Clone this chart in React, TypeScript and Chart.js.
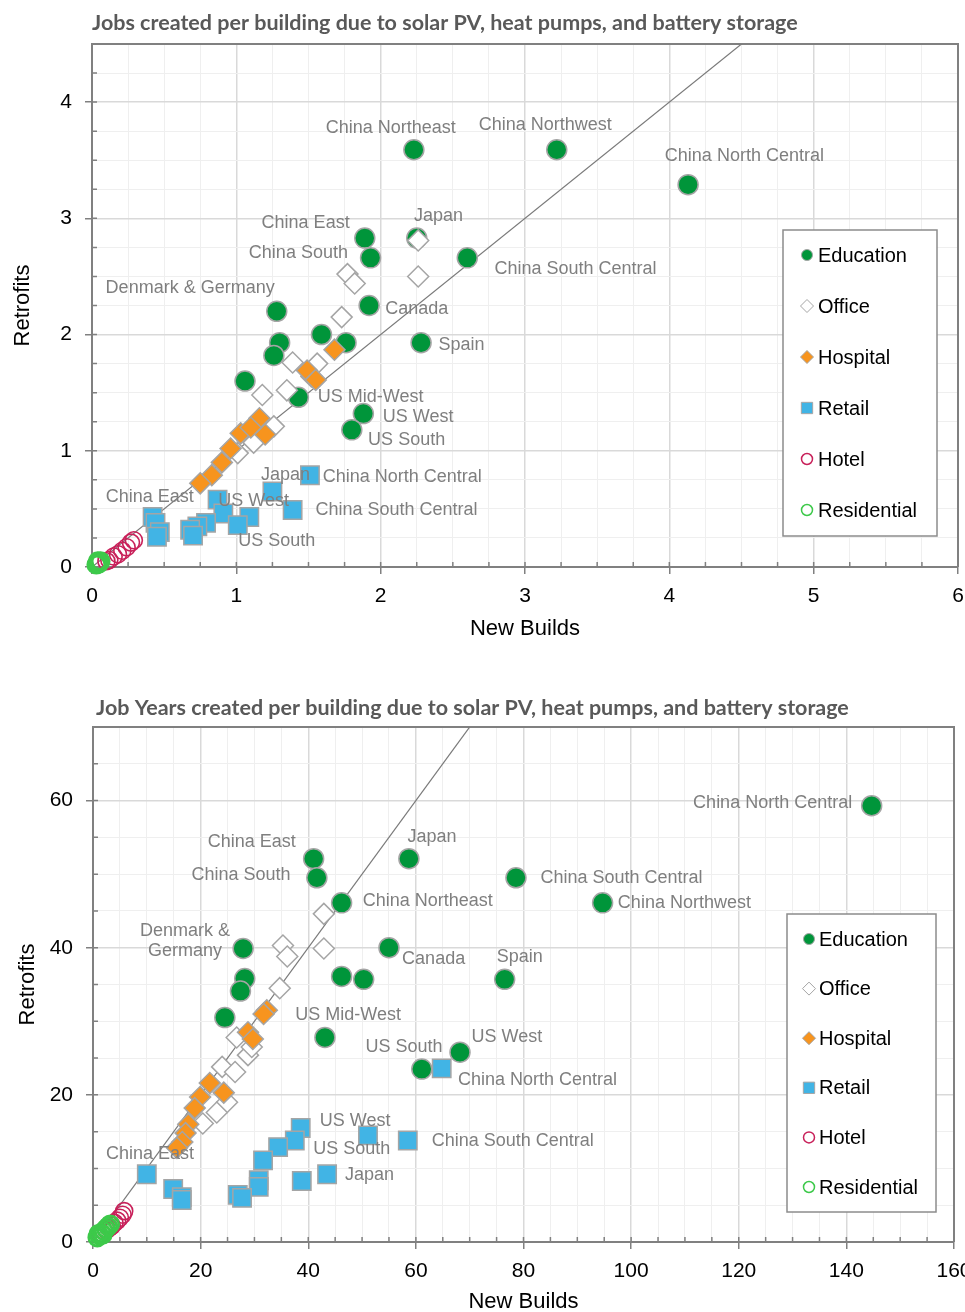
import React, { useEffect, useRef } from 'react';
import { Chart, registerables } from 'chart.js';

Chart.register(...registerables);

type Pt = [number, number];

// ---------------- Chart 1: Jobs created per building ----------------
const jobsTitle = 'Jobs created per building due to solar PV, heat pumps, and battery storage';
const jobsAxisMax = [6, 4.5];
const jobsRefLine = [0, 6];

const jobsEducation: Pt[] = [
  [2.23, 3.59], [3.22, 3.59], [4.13, 3.29], [1.89, 2.83], [2.25, 2.83], [1.93, 2.66], [2.60, 2.66],
  [1.92, 2.25], [1.28, 2.20], [1.59, 2.00], [1.30, 1.93], [1.76, 1.93], [1.26, 1.82], [1.06, 1.60],
  [1.43, 1.46], [2.28, 1.93], [1.88, 1.32], [1.80, 1.18],
];
const jobsOffice: Pt[] = [
  [2.26, 2.81], [2.26, 2.50], [1.77, 2.52], [1.82, 2.44], [1.73, 2.15], [1.39, 1.76], [1.56, 1.75],
  [1.18, 1.48], [1.35, 1.52], [1.26, 1.21], [1.12, 1.07], [1.01, 0.98], [1.52, 1.64],
];
const jobsHospital: Pt[] = [
  [1.68, 1.87], [1.49, 1.69], [1.55, 1.61], [1.16, 1.28], [1.20, 1.14], [1.03, 1.15], [1.10, 1.20],
  [0.96, 1.02], [0.90, 0.90], [0.83, 0.79], [0.75, 0.72],
];
const jobsRetail: Pt[] = [
  [1.51, 0.79], [1.25, 0.65], [1.39, 0.49], [0.87, 0.58], [0.91, 0.46], [1.09, 0.43], [1.01, 0.36],
  [0.79, 0.38], [0.73, 0.35], [0.68, 0.32], [0.70, 0.27], [0.42, 0.43], [0.44, 0.38], [0.47, 0.30],
  [0.45, 0.26],
];
const jobsHotel: Pt[] = [
  [0.29, 0.23], [0.27, 0.21], [0.24, 0.17], [0.21, 0.14], [0.18, 0.11], [0.15, 0.09], [0.12, 0.06], [0.10, 0.05],
];
const jobsResidential: Pt[] = [
  [0.03, 0.02], [0.04, 0.03], [0.05, 0.04], [0.06, 0.05], [0.04, 0.05], [0.05, 0.03],
];
const jobsLabelText = [
  'China Northeast', 'China Northwest', 'China North Central', 'China East', 'Japan', 'China South',
  'China South Central', 'Denmark & Germany', 'Canada', 'Spain', 'US Mid-West', 'US West', 'US South',
  'Japan', 'China North Central', 'China East', 'US West', 'China South Central', 'US South',
];
const jobsLabelX = [2.07, 3.14, 4.52, 1.48, 2.40, 1.43, 3.35, 0.68, 2.25, 2.56, 1.93, 2.26, 2.18, 1.34, 2.15, 0.40, 1.12, 2.11, 1.28];
const jobsLabelY = [3.78, 3.80, 3.54, 2.96, 3.02, 2.70, 2.56, 2.40, 2.22, 1.91, 1.46, 1.29, 1.09, 0.79, 0.77, 0.60, 0.57, 0.49, 0.22];

// ---------------- Chart 2: Job years created per building ----------------
const yearsTitle = 'Job Years created per building due to solar PV, heat pumps, and battery storage';
const yearsAxisMax = [160, 70];
const yearsRefLine = [0, 160];

const yearsEducation: Pt[] = [
  [144.7, 59.3], [41.0, 52.1], [58.7, 52.1], [41.6, 49.5], [78.6, 49.5], [46.2, 46.1], [94.7, 46.1],
  [27.9, 39.9], [55.0, 40.0], [28.2, 35.8], [27.4, 34.1], [46.2, 36.1], [50.3, 35.7], [76.5, 35.7],
  [24.5, 30.5], [43.1, 27.8], [68.2, 25.8], [61.1, 23.5],
];
const yearsOffice: Pt[] = [
  [42.9, 44.6], [42.9, 39.9], [35.3, 40.3], [36.1, 38.8], [34.7, 34.5], [26.7, 27.8], [28.8, 25.4],
  [24.0, 23.8], [26.4, 23.1], [24.9, 19.0], [23.0, 17.6], [20.4, 16.1], [29.5, 26.5],
];
const yearsHospital: Pt[] = [
  [32.3, 31.5], [31.7, 31.0], [28.8, 28.5], [29.7, 27.6], [21.7, 21.6], [19.9, 19.7], [24.3, 20.3],
  [18.9, 18.2], [17.7, 16.0], [17.2, 14.8], [16.6, 13.6], [15.6, 12.8],
];
const yearsRetail: Pt[] = [
  [64.8, 23.6], [38.6, 15.5], [51.1, 14.5], [58.5, 13.8], [37.5, 13.8], [34.4, 12.9], [31.6, 11.1],
  [30.8, 8.4], [30.8, 7.5], [43.5, 9.2], [38.8, 8.3], [26.9, 6.4], [27.7, 6.0], [10.0, 9.2],
  [14.9, 7.2], [16.5, 6.1], [16.5, 5.7],
];
const yearsHotel: Pt[] = [
  [5.8, 4.2], [5.5, 3.7], [5.0, 3.3], [4.5, 2.9], [4.0, 2.6], [3.5, 2.2], [3.0, 1.9], [2.5, 1.6],
];
const yearsResidential: Pt[] = [
  [0.8, 0.6], [1.2, 0.9], [1.6, 1.2], [2.0, 1.5], [2.4, 1.8], [2.8, 2.1], [3.2, 2.4], [1.0, 1.1], [1.8, 1.0],
];
const yearsLabelText = [
  'China North Central', 'China East', 'Japan', 'China South', 'China South Central', 'China Northeast',
  'China Northwest', 'Denmark &', 'Germany', 'Canada', 'Spain', 'US Mid-West', 'US West', 'US South',
  'China North Central', 'US West', 'China South Central', 'US South', 'Japan', 'China East',
];
const yearsLabelX = [126.3, 29.5, 63.0, 27.5, 98.2, 62.2, 109.9, 17.1, 17.1, 63.3, 79.3, 47.4, 76.9, 57.8, 82.6, 48.7, 78.0, 48.1, 51.4, 10.6];
const yearsLabelY = [59.6, 54.4, 55.1, 49.9, 49.5, 46.3, 46.1, 42.3, 39.5, 38.4, 38.8, 30.9, 27.8, 26.5, 22.0, 16.4, 13.7, 12.6, 9.1, 11.9];

const xAxisTitle = 'New Builds';
const yAxisTitle = 'Retrofits';

// ---------------- styles ----------------
const SANS = "'Liberation Sans', Arial, sans-serif";
const TITLE_FONT = "'Lato', 'Open Sans', sans-serif";
const MARK_GRAY = '#a5a5a5';
const AXIS_GRAY = '#808080';

const seriesStyle = [
  { label: 'Education', style: 'circle', radius: 10, fill: '#00953a', stroke: MARK_GRAY, lw: 1.5, order: 6, lr: 5.5 },
  { label: 'Office', style: 'rectRot', radius: 10.5, fill: '#ffffff', stroke: MARK_GRAY, lw: 1.5, order: 5, lr: 6.5 },
  { label: 'Hospital', style: 'rectRot', radius: 10.5, fill: '#f7941e', stroke: MARK_GRAY, lw: 1.5, order: 4, lr: 6.5 },
  { label: 'Retail', style: 'rect', radius: 13, fill: '#41b4e5', stroke: MARK_GRAY, lw: 1.5, order: 3, lr: 8 },
  { label: 'Hotel', style: 'circle', radius: 8.5, fill: 'rgba(255,255,255,0)', stroke: '#c8215a', lw: 1.6, order: 2, lr: 5.5 },
  { label: 'Residential', style: 'circle', radius: 8.5, fill: 'rgba(255,255,255,0)', stroke: '#3dc94a', lw: 2.8, order: 1, lr: 5.5 },
];

type Spec = {
  title: string;
  max: number[];
  step: number[];
  major: number[];
  refLine: number[];
  series: Pt[][];
  labelText: string[];
  labelX: number[];
  labelY: number[];
  padTop: number;
  padRight: number;
  yAxisWidth: number;
  xAxisHeight: number;
  xTitlePad: number;
  yTitlePad: number;
  titleDx: number;
  titleDy: number;
  legend: { right: number; top: number; width: number; height: number; first: number; gap: number; markerX: number; textX: number };
};

const jobsSpec: Spec = {
  title: jobsTitle,
  max: jobsAxisMax,
  step: [0.25, 0.25],
  major: [1, 1],
  refLine: jobsRefLine,
  series: [jobsEducation, jobsOffice, jobsHospital, jobsRetail, jobsHotel, jobsResidential],
  labelText: jobsLabelText,
  labelX: jobsLabelX,
  labelY: jobsLabelY,
  padTop: 44,
  padRight: 42,
  yAxisWidth: 92,
  xAxisHeight: 83,
  xTitlePad: 8,
  yTitlePad: 10,
  titleDx: 0,
  titleDy: 21,
  legend: { right: 21, top: 186, width: 154, height: 306, first: 25, gap: 51, markerX: 24, textX: 35 },
};

const yearsSpec: Spec = {
  title: yearsTitle,
  max: yearsAxisMax,
  step: [5, 5],
  major: [20, 20],
  refLine: yearsRefLine,
  series: [yearsEducation, yearsOffice, yearsHospital, yearsRetail, yearsHotel, yearsResidential],
  labelText: yearsLabelText,
  labelX: yearsLabelX,
  labelY: yearsLabelY,
  padTop: 47,
  padRight: 46,
  yAxisWidth: 93,
  xAxisHeight: 98,
  xTitlePad: 25,
  yTitlePad: 15,
  titleDx: 3,
  titleDy: 19,
  legend: { right: 18, top: 187, width: 149, height: 298, first: 25, gap: 49.6, markerX: 22, textX: 32 },
};

function drawMarker(ctx: CanvasRenderingContext2D, style: string, x: number, y: number, r: number, fill: string, stroke: string, lw: number) {
  ctx.beginPath();
  if (style === 'circle') ctx.arc(x, y, r, 0, Math.PI * 2);
  else if (style === 'rectRot') {
    ctx.moveTo(x - r, y); ctx.lineTo(x, y - r); ctx.lineTo(x + r, y); ctx.lineTo(x, y + r); ctx.closePath();
  } else {
    const s = r * Math.SQRT1_2;
    ctx.rect(x - s, y - s, 2 * s, 2 * s);
  }
  ctx.fillStyle = fill;
  ctx.fill();
  ctx.lineWidth = lw;
  ctx.strokeStyle = stroke;
  ctx.stroke();
}

function makeConfig(spec: Spec): any {
  const isMajor = (v: number, axis: number) => {
    const q = v / spec.major[axis];
    return Math.abs(q - Math.round(q)) < 1e-6;
  };

  const datasets: any[] = seriesStyle.map((s, i) => ({
    label: s.label,
    data: spec.series[i].map(([x, y]) => ({ x, y })),
    pointStyle: s.style,
    pointRadius: s.radius,
    pointBackgroundColor: s.fill,
    pointBorderColor: s.stroke,
    pointBorderWidth: s.lw,
    showLine: false,
    order: s.order,
    clip: false,
  }));
  datasets.push({
    label: 'reference',
    data: spec.refLine.map((v) => ({ x: v, y: v })),
    showLine: true,
    borderColor: '#7a7a7a',
    borderWidth: 1.2,
    pointRadius: 0,
    order: 10,
  });

  const axis = (idx: number) => ({
    type: 'linear',
    min: 0,
    max: spec.max[idx],
    afterFit: (s: any) => {
      if (idx === 0) s.height = spec.xAxisHeight; else s.width = spec.yAxisWidth;
    },
    ticks: {
      stepSize: spec.step[idx],
      autoSkip: false,
      maxRotation: 0,
      padding: idx === 0 ? 10 : 13,
      color: '#000',
      font: { family: SANS, size: 21 },
      callback: (v: number) => (isMajor(v, idx) ? String(v) : ''),
    },
    grid: {
      color: (c: any) => (c.tick && isMajor(c.tick.value, idx) ? '#d9d9d9' : '#efefef'),
      lineWidth: (c: any) => (c.tick && isMajor(c.tick.value, idx) ? 1.5 : 1),
      tickLength: 7,
      tickWidth: 1.5,
      tickColor: (c: any) => (c.tick && isMajor(c.tick.value, idx) ? AXIS_GRAY : 'rgba(0,0,0,0)'),
    },
    border: { display: true, color: AXIS_GRAY, width: 2 },
    title: {
      display: true,
      text: idx === 0 ? xAxisTitle : yAxisTitle,
      color: '#000',
      font: { family: SANS, size: 22 },
      padding: idx === 0 ? { top: 0, bottom: spec.xTitlePad } : { top: spec.yTitlePad, bottom: 0 },
    },
  });

  const decor = {
    id: 'decor',
    beforeDatasetsDraw(chart: any) {
      const { ctx, chartArea: a, scales } = chart;
      ctx.save();
      ctx.strokeStyle = AXIS_GRAY;
      ctx.lineWidth = 1.5;
      ctx.beginPath();
      scales.x.ticks.forEach((t: any) => {
        if (t.value <= 0 || t.value >= spec.max[0]) return;
        const px = scales.x.getPixelForValue(t.value);
        ctx.moveTo(px, a.bottom);
        ctx.lineTo(px, a.bottom - 5);
      });
      scales.y.ticks.forEach((t: any) => {
        if (t.value <= 0 || t.value >= spec.max[1]) return;
        const py = scales.y.getPixelForValue(t.value);
        ctx.moveTo(a.left, py);
        ctx.lineTo(a.left + 5, py);
      });
      ctx.stroke();
      ctx.lineWidth = 2;
      ctx.beginPath();
      ctx.moveTo(a.left, a.top);
      ctx.lineTo(a.right, a.top);
      ctx.lineTo(a.right, a.bottom);
      ctx.stroke();
      ctx.restore();
    },
    afterDatasetsDraw(chart: any) {
      const { ctx, scales } = chart;
      ctx.save();
      ctx.font = `18px ${SANS}`;
      ctx.fillStyle = '#7f7f7f';
      ctx.textAlign = 'center';
      ctx.textBaseline = 'middle';
      spec.labelText.forEach((t, i) => {
        ctx.fillText(t, scales.x.getPixelForValue(spec.labelX[i]), scales.y.getPixelForValue(spec.labelY[i]));
      });
      ctx.restore();
    },
    afterDraw(chart: any) {
      const { ctx, chartArea: a } = chart;
      ctx.save();
      // title
      ctx.font = `bold 21.5px ${TITLE_FONT}`;
      ctx.fillStyle = '#595959';
      ctx.textAlign = 'left';
      ctx.textBaseline = 'middle';
      ctx.fillText(spec.title, a.left + spec.titleDx, a.top - spec.titleDy);
      // legend
      const L = spec.legend;
      const bx = a.right - L.right - L.width;
      const by = a.top + L.top;
      ctx.fillStyle = '#ffffff';
      ctx.fillRect(bx, by, L.width, L.height);
      ctx.strokeStyle = '#8c8c8c';
      ctx.lineWidth = 1.5;
      ctx.strokeRect(bx, by, L.width, L.height);
      ctx.font = `20px ${SANS}`;
      ctx.textBaseline = 'middle';
      seriesStyle.forEach((s, i) => {
        const y = by + L.first + i * L.gap;
        drawMarker(ctx, s.style, bx + L.markerX, y, s.lr, s.fill, s.stroke, s.style === 'circle' && s.fill.startsWith('rgba') ? 1.5 : 1);
        ctx.fillStyle = '#000';
        ctx.fillText(s.label, bx + L.textX, y + 1);
      });
      ctx.restore();
    },
  };

  return {
    type: 'scatter',
    data: { datasets },
    options: {
      responsive: false,
      animation: false,
      devicePixelRatio: 1,
      events: [],
      layout: { autoPadding: false, padding: { top: spec.padTop, right: spec.padRight, left: 0, bottom: 0 } },
      plugins: { legend: { display: false }, tooltip: { enabled: false }, title: { display: false } },
      scales: { x: axis(0), y: axis(1) },
    },
    plugins: [decor],
  };
}

export default function App() {
  const topRef = useRef<HTMLCanvasElement>(null);
  const botRef = useRef<HTMLCanvasElement>(null);
  useEffect(() => {
    document.body.style.margin = '0';
    const c1 = new Chart(topRef.current as HTMLCanvasElement, makeConfig(jobsSpec));
    const c2 = new Chart(botRef.current as HTMLCanvasElement, makeConfig(yearsSpec));
    return () => {
      c1.destroy();
      c2.destroy();
    };
  }, []);
  return (
    <div style={{ position: 'relative', width: 965, height: 1312, overflow: 'hidden', background: '#ffffff' }}>
      <canvas ref={topRef} width={1000} height={650} style={{ position: 'absolute', left: 0, top: 0, width: 1000, height: 650 }} />
      <canvas ref={botRef} width={1000} height={660} style={{ position: 'absolute', left: 0, top: 680, width: 1000, height: 660 }} />
    </div>
  );
}
